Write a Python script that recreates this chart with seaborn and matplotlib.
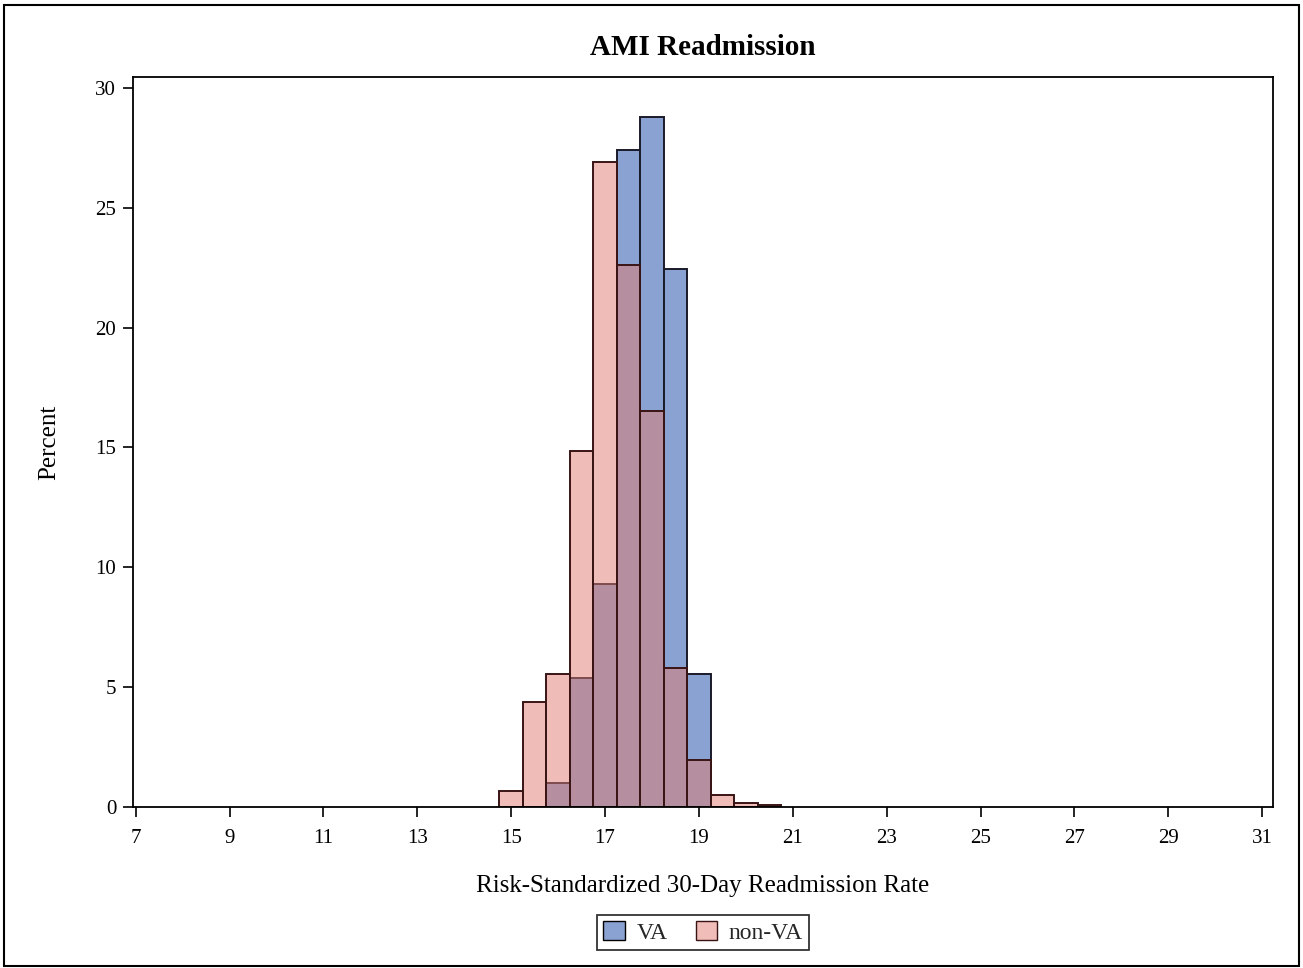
import numpy as np
import pandas as pd
import seaborn as sns
import matplotlib.pyplot as plt
from matplotlib.patches import Patch, Rectangle

# bin centres (width 0.5) and percent of hospitals per bin
va_centers = [16.0, 16.5, 17.0, 17.5, 18.0, 18.5, 19.0]
va_pct = [1.0, 5.4, 9.3, 27.4, 28.8, 22.45, 5.55]

nonva_centers = [15.0, 15.5, 16.0, 16.5, 17.0, 17.5, 18.0, 18.5, 19.0, 19.5, 20.0, 20.5]
nonva_pct = [0.65, 4.4, 5.55, 14.85, 26.9, 22.6, 16.5, 5.8, 1.95, 0.5, 0.18, 0.08]

x_ticks = list(range(7, 32, 2))
y_ticks = [0, 5, 10, 15, 20, 25, 30]

sns.set_theme(style="white")
plt.rcParams['font.family'] = ['Liberation Serif', 'DejaVu Serif']

va_df = pd.DataFrame({"rate": va_centers, "pct": va_pct})
nonva_df = pd.DataFrame({"rate": nonva_centers, "pct": nonva_pct})

fig = plt.figure(figsize=(13.03, 9.68), dpi=100)
ax = fig.add_axes([0.102, 0.1663, 0.875, 0.7542])

va_col = "#8aa2d1"
nonva_col = "#e17b71"

sns.histplot(data=va_df, x="rate", weights="pct", binwidth=0.5, binrange=(15.75, 19.25),
             ax=ax, color=va_col, alpha=1.0, edgecolor="#1a1a2a", linewidth=1.4)
sns.histplot(data=nonva_df, x="rate", weights="pct", binwidth=0.5, binrange=(14.75, 20.75),
             ax=ax, color=nonva_col, alpha=0.5, edgecolor="#3a1414", linewidth=1.4)

ax.set_xlim(6.94, 31.23)
ax.set_ylim(0, 30.45)
ax.set_xticks(x_ticks)
ax.set_yticks(y_ticks)
ax.tick_params(axis="both", which="both", direction="out", length=7, width=1.2,
               color="black", labelsize=15, bottom=True, left=True, pad=5,
               labelcolor="black")
ax.tick_params(axis="x", pad=9)
for s in ax.spines.values():
    s.set_color("black")
    s.set_linewidth(1.3)

ax.set_xlabel("Risk-Standardized 30-Day Readmission Rate", fontsize=18, labelpad=19,
              color="black")
ax.set_ylabel("Percent", fontsize=18, labelpad=25, color="black")
ax.set_title("AMI Readmission", fontsize=21, fontweight="bold", pad=16, color="black")

handles = [Patch(facecolor=va_col, edgecolor="black", label="VA"),
           Patch(facecolor="#f0bdb8", edgecolor="#3a1414", label="non-VA")]
leg = fig.legend(handles=handles, loc="center", bbox_to_anchor=(0.5396, 0.037),
                 ncol=2, frameon=True, fancybox=False, fontsize=17,
                 handlelength=0.9, handleheight=0.9, handletextpad=0.5,
                 columnspacing=1.2, borderpad=0.25)
leg.get_frame().set_edgecolor("black")
leg.get_frame().set_linewidth(1.3)

fig.patches.append(Rectangle((0.003, 0.002), 0.994, 0.993, transform=fig.transFigure,
                             fill=False, edgecolor="black", linewidth=1.5))

fig.savefig("out.png", dpi=100)
